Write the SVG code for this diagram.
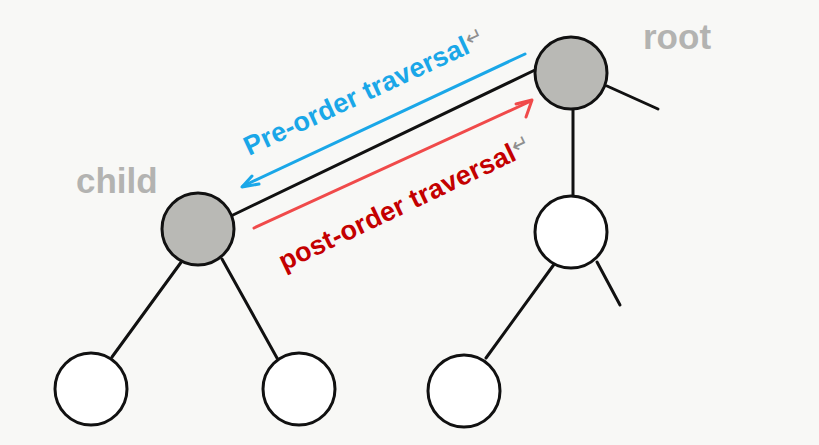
<svg xmlns="http://www.w3.org/2000/svg" width="819" height="445" viewBox="0 0 819 445">
<style>
.edge{stroke:#111;stroke-width:3;fill:none;stroke-linecap:round}
.node{stroke:#111;stroke-width:3}
.gray{fill:#b9b9b5}
.white{fill:#ffffff}
.lbl{font-family:"Liberation Sans",Arial,sans-serif;font-weight:bold;fill:#b3b3b1;font-size:35px}
.trav{font-family:"Liberation Sans",Arial,sans-serif;font-weight:bold;font-size:27px;letter-spacing:0.2px}
.ret{font-family:"DejaVu Sans",sans-serif;font-weight:normal;fill:#8f8f8f;font-size:21px;letter-spacing:0}
</style>
<rect width="819" height="445" fill="#f8f8f6"/>
<g id="connectors">
  <line class="edge" x1="233" y1="215" x2="535" y2="70"/>
  <line class="edge" x1="607" y1="86" x2="658" y2="109"/>
  <line class="edge" x1="573" y1="109" x2="573" y2="197"/>
  <line class="edge" x1="597" y1="262" x2="620" y2="305"/>
  <line class="edge" x1="555" y1="263" x2="486" y2="358"/>
  <line class="edge" x1="182" y1="261" x2="112" y2="357"/>
  <line class="edge" x1="222" y1="259" x2="277" y2="358"/>
  <g id="preorder-arrow" stroke="#1aa7e8" stroke-width="3" fill="none" stroke-linecap="round" stroke-linejoin="round">
    <line x1="525" y1="54" x2="243" y2="186"/>
    <polyline points="252,176 242,187 259,184"/>
  </g>
  <g id="postorder-arrow" stroke="#f04a4a" stroke-width="3" fill="none" stroke-linecap="round" stroke-linejoin="round">
    <line x1="254" y1="228" x2="531" y2="101"/>
    <polyline points="516,104 532,100 526,117"/>
  </g>
</g>
<g id="root"><circle class="node gray" cx="571" cy="73" r="36"/></g>
<g id="child"><circle class="node gray" cx="198" cy="229" r="36"/></g>
<g id="right"><circle class="node white" cx="571" cy="232" r="36"/></g>
<g id="child-left"><circle class="node white" cx="91" cy="389" r="36"/></g>
<g id="child-right"><circle class="node white" cx="299" cy="389" r="36"/></g>
<g id="right-left"><circle class="node white" cx="464" cy="391" r="36"/></g>
<text class="lbl" x="643" y="49">root</text>
<text class="lbl" x="76" y="193">child</text>
<text class="trav" fill="#1aa7e8" transform="translate(249,156) rotate(-25)">Pre-order traversal<tspan class="ret" dy="-6">↵</tspan></text>
<text class="trav" fill="#c40000" transform="translate(284,271) rotate(-25.5)">post-order traversal<tspan class="ret" dy="-6">↵</tspan></text>
</svg>
